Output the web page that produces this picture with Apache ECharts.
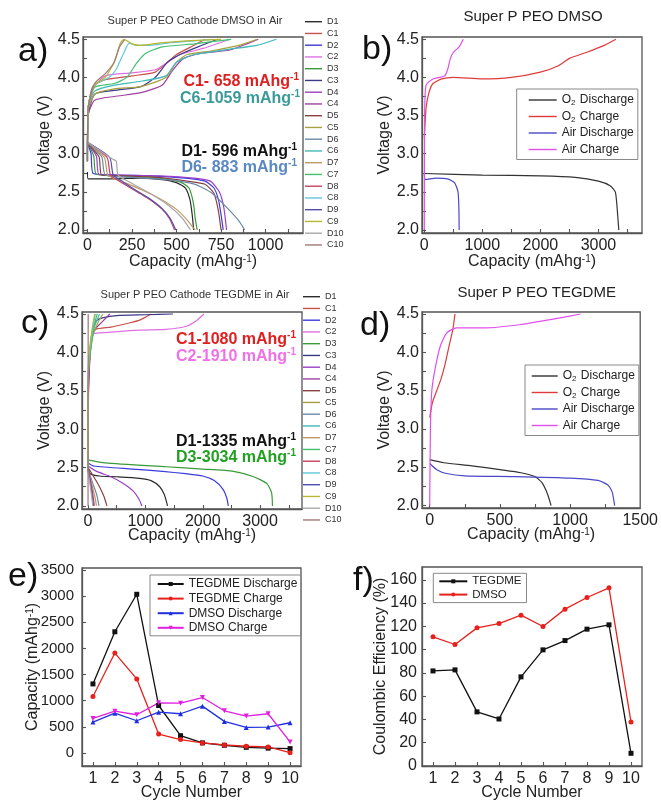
<!DOCTYPE html>
<html><head><meta charset="utf-8">
<script src="https://cdn.jsdelivr.net/npm/echarts@6/dist/echarts.min.js"></script>
<style>html,body{margin:0;padding:0;background:#fff}#c{width:661px;height:802px}</style>
</head><body><div id="c"></div>
<script>
// ---------- Panel a: Super P PEO Cathode DMSO in Air ([capacity, voltage]) ----------
const aD1 = [[0,2.76],[4,2.67],[150,2.67],[300,2.68],[420,2.66],[500,2.62],[550,2.55],[575,2.4],[588,2.2],[596,2.0]];
const aC1 = [[0,2.9],[4,3.6],[30,3.88],[100,3.97],[250,4.02],[380,4.07],[450,4.2],[500,4.3],[580,4.4],[661,4.5]];
const aD2 = [[0,3.14],[20,3.0],[32,2.74],[150,2.72],[350,2.71],[550,2.68],[660,2.64],[710,2.55],[735,2.4],[750,2.2],[762,2.0]];
const aC2 = [[0,2.9],[4,3.6],[30,3.85],[100,4.02],[250,4.06],[380,4.1],[450,4.2],[520,4.3],[650,4.38],[800,4.5]];
const aD3 = [[0,3.15],[35,2.97],[50,2.73],[200,2.71],[400,2.68],[520,2.63],[570,2.55],[595,2.35],[605,2.15],[616,2.0]];
const aC3 = [[0,2.9],[4,3.5],[40,3.78],[150,3.83],[300,3.88],[380,4.0],[450,4.2],[520,4.3],[620,4.4],[731,4.5]];
const aD4 = [[0,3.14],[50,2.97],[65,2.73],[200,2.72],[400,2.71],[600,2.68],[690,2.64],[740,2.5],[765,2.3],[781,2.0]];
const aC4 = [[0,2.9],[4,3.5],[40,3.7],[150,3.75],[300,3.8],[420,3.9],[480,4.1],[540,4.25],[650,4.32],[800,4.36],[959,4.5]];
const aD5 = [[0,3.13],[65,2.96],[80,2.72],[200,2.71],[400,2.69],[560,2.64],[660,2.6],[710,2.48],[735,2.25],[750,2.0]];
const aC5 = [[0,2.9],[4,3.55],[40,3.78],[150,3.85],[300,3.88],[440,4.0],[500,4.2],[560,4.3],[700,4.35],[850,4.42],[953,4.5]];
const aD6 = [[0,3.14],[80,2.96],[100,2.72],[250,2.69],[450,2.66],[600,2.6],[700,2.48],[800,2.25],[850,2.12],[883,2.0]];
const aC6 = [[0,2.9],[4,3.6],[40,3.82],[150,3.9],[300,3.95],[440,4.02],[500,4.2],[600,4.3],[800,4.37],[950,4.42],[1061,4.5]];
const aD7 = [[0,3.15],[95,2.95],[115,2.72],[200,2.63],[300,2.53],[400,2.42],[500,2.27],[560,2.13],[604,2.0]];
const aC7 = [[0,2.9],[4,3.6],[40,3.87],[150,3.92],[220,4.0],[280,4.2],[330,4.32],[420,4.4],[600,4.44],[807,4.5]];
const aD8 = [[0,3.15],[110,2.95],[130,2.72],[200,2.61],[300,2.47],[350,2.4],[420,2.27],[460,2.15],[489,2.0]];
const aC8 = [[0,2.9],[4,3.6],[40,3.9],[120,4.0],[160,4.1],[200,4.3],[235,4.45],[270,4.42],[350,4.42],[450,4.45],[600,4.48],[705,4.5]];
const aD9 = [[0,3.15],[125,2.95],[145,2.72],[200,2.63],[300,2.48],[350,2.41],[420,2.28],[465,2.15],[496,2.0]];
const aC9 = [[0,2.9],[4,3.6],[40,3.9],[100,4.0],[150,4.2],[185,4.45],[205,4.5],[250,4.44],[300,4.42],[400,4.45],[550,4.48],[750,4.5]];
const aD10 = [[0,3.15],[140,2.93],[162,2.9],[172,2.72],[250,2.61],[350,2.48],[450,2.33],[530,2.16],[578,2.0]];
const aC10 = [[0,2.9],[4,3.6],[40,3.92],[100,4.05],[150,4.2],[180,4.4],[210,4.5]];

// ---------- Panel c: Super P PEO Cathode TEGDME in Air ----------
const cD1 = [[0,2.5],[40,2.42],[200,2.39],[500,2.38],[900,2.36],[1100,2.33],[1250,2.25],[1330,2.15],[1370,2.05],[1385,2.0]];
const cC1 = [[0,2.5],[5,3.4],[30,3.9],[70,4.2],[130,4.3],[400,4.33],[700,4.38],[900,4.42],[1100,4.5]];
const cD2 = [[0,2.56],[100,2.52],[775,2.48],[1300,2.45],[1700,2.42],[2000,2.39],[2200,2.33],[2350,2.22],[2420,2.1],[2445,2.0]];
const cC2 = [[0,2.5],[5,3.3],[40,4.0],[90,4.24],[350,4.26],[900,4.29],[1361,4.3],[1714,4.34],[1900,4.42],[2020,4.5]];
const cD3 = [[0,2.6],[300,2.56],[1360,2.51],[2000,2.48],[2535,2.45],[2887,2.38],[3120,2.29],[3200,2.17],[3215,2.0]];
const cC3 = [[0,2.5],[5,3.5],[50,4.15],[100,4.35],[160,4.42],[250,4.45],[500,4.48],[1000,4.49],[1480,4.5]];
const cD4 = [[0,2.52],[150,2.45],[400,2.38],[600,2.3],[780,2.2],[880,2.1],[940,2.0]];
const cC4 = [[0,2.5],[5,3.6],[60,4.2],[120,4.3],[250,4.4],[380,4.5]];
const cD5 = [[0,2.5],[100,2.38],[200,2.25],[280,2.12],[330,2.0]];
const cC5 = [[0,2.5],[5,3.7],[80,4.2],[180,4.4],[260,4.5]];
const cD6 = [[0,2.48],[80,2.3],[150,2.15],[192,2.0]];
const cC6 = [[0,2.5],[10,3.8],[100,4.3],[200,4.5]];
const cD7 = [[0,2.48],[60,2.3],[120,2.12],[147,2.0]];
const cC7 = [[0,2.5],[10,3.8],[90,4.3],[160,4.5]];
const cD8 = [[0,2.48],[50,2.3],[90,2.12],[110,2.0]];
const cC8 = [[0,2.5],[10,3.9],[80,4.3],[130,4.5]];
const cD9 = [[0,2.47],[40,2.3],[80,2.1],[95,2.0]];
const cC9 = [[0,2.5],[10,3.9],[70,4.3],[115,4.5]];
const cD10 = [[0,2.45],[30,2.3],[65,2.12],[83,2.0]];
const cC10 = [[0,2.0],[3,4.5]];

// ---------- Panel b: Super P PEO DMSO ----------
const bO2Dis = [[0,2.74],[1000,2.72],[2000,2.71],[2600,2.69],[3000,2.64],[3200,2.58],[3290,2.5],[3320,2.3],[3350,2.0]];
const bO2Chg = [[0,3.2],[30,3.6],[80,3.8],[150,3.92],[300,3.98],[500,4.0],[1000,3.98],[1500,4.0],[2000,4.07],[2300,4.15],[2500,4.25],[2800,4.33],[3100,4.42],[3300,4.5]];
const bAirDis = [[0,2.73],[20,2.66],[200,2.68],[400,2.67],[520,2.62],[580,2.5],[595,2.3],[600,2.0]];
const bAirChg = [[0,2.0],[5,3.5],[30,3.9],[150,3.98],[350,4.02],[400,4.1],[450,4.25],[500,4.33],[600,4.4],[670,4.5]];

// ---------- Panel d: Super P PEO TEGDME ----------
const dO2Dis = [[0,2.6],[100,2.56],[300,2.52],[500,2.47],[650,2.43],[750,2.38],[800,2.3],[840,2.15],[865,2.0]];
const dO2Chg = [[0,3.15],[20,3.35],[50,3.5],[80,3.65],[110,3.85],[140,4.1],[165,4.3],[180,4.5]];
const dAirDis = [[0,2.55],[50,2.47],[120,2.42],[250,2.39],[600,2.38],[1000,2.36],[1200,2.33],[1270,2.27],[1300,2.18],[1318,2.0]];
const dAirChg = [[0,2.0],[5,3.0],[15,3.5],[40,3.8],[75,4.08],[120,4.25],[190,4.32],[400,4.32],[640,4.36],[870,4.43],[1075,4.5]];

// ---------- Panel e: capacity vs cycle ----------
const cycles = [1,2,3,4,5,6,7,8,9,10];
const eTegdmeDis = [1321,2319,3037,908,330,192,147,108,92,83];
const eTegdmeChg = [1080,1912,1417,362,256,192,154,128,115,5];
const eDmsoDis = [591,762,616,781,750,896,604,489,496,578];
const eDmsoChg = [661,800,731,959,953,1061,807,705,750,210];

// ---------- Panel f: coulombic efficiency ----------
const fTegdme = [81.7,82.6,46.5,40.4,76.6,99.8,107.8,117.6,121.3,10.9];
const fDmso = [111,104.4,118.7,122.4,129.6,119.9,134.8,144.8,153.1,37.8];

const cycleNames = ['D1','C1','D2','C2','D3','C3','D4','C4','D5','C5','D6','C6','D7','C7','D8','C8','D9','C9','D10','C10'];
const aCurves = [aD1,aC1,aD2,aC2,aD3,aC3,aD4,aC4,aD5,aC5,aD6,aC6,aD7,aC7,aD8,aC8,aD9,aC9,aD10,aC10];
const cCurves = [cD1,cC1,cD2,cC2,cD3,cC3,cD4,cC4,cD5,cC5,cD6,cC6,cD7,cC7,cD8,cC8,cD9,cC9,cD10,cC10];
const cycleColors = ['#2b2b2b','#c8504a','#3a3ae0','#e070e0','#3a9a3a','#3a3a8a','#9a40c8','#a040a0','#8a4040','#a8a040',
  '#6a8aa8','#40b8b8','#c09a60','#40c070','#c84060','#60c8d8','#5050b0','#b8b830','#a8a8a8','#a07878'];
const gasNames = ['O2 Discharge','O2 Charge','Air Discharge','Air Charge'];
const gasColors = ['#333333','#e03a3a','#4848c8','#e050e8'];

const FONT = '"Liberation Sans", Arial, Helvetica, sans-serif';
const AX = '#555';
const range = (a,b,s) => { const r=[]; for (let v=a; v<=b+1e-9; v+=s) r.push(+v.toFixed(4)); return r; };

function valAxis(o) {
  return {
    type: 'value', gridIndex: o.g, min: o.min, max: o.max,
    axisLine: { show: true, onZero: false, lineStyle: { color: AX, width: 1.3 } },
    axisTick: { show: true, inside: true, length: 4, customValues: o.ticks, lineStyle: { color: AX, width: 1.1 } },
    axisLabel: { customValues: o.labels, formatter: o.fmt || (v => String(Math.round(v))), fontSize: o.fs || 16, color: '#222', margin: o.margin, fontFamily: FONT },
    splitLine: { show: false },
    name: o.name, nameLocation: 'middle', nameGap: o.nameGap, nameMoveOverlap: false,
    nameTextStyle: { fontSize: 16, color: '#222', fontFamily: FONT,
      rich: { sup: { fontSize: 10, verticalAlign: 'top', lineHeight: 10, color: '#222' } } }
  };
}
const capName = 'Capacity (mAhg{sup|-1})';
const vFmt = v => v.toFixed(1);
const vTicks = range(2.0, 4.5, 0.25), vLabels = range(2.0, 4.5, 0.5);

const grid = [
  { left: 83, top: 37, width: 220, height: 196 },
  { left: 422, top: 37, width: 220, height: 196 },
  { left: 82, top: 312, width: 220, height: 197 },
  { left: 422, top: 312, width: 220, height: 196 },
  { left: 82, top: 568, width: 219, height: 198 },
  { left: 422, top: 567, width: 220, height: 200 }
].map(g => Object.assign(g, { show: true, borderColor: AX, borderWidth: 1.3, backgroundColor: 'transparent' }));

const xAxis = [
  valAxis({ g: 0, min: -25, max: 1210, ticks: range(0,1125,125), labels: range(0,1000,250), margin: 5, name: capName, nameGap: 21 }),
  valAxis({ g: 1, min: -40, max: 3750, ticks: range(0,3500,500), labels: range(0,3000,1000), margin: 5, name: capName, nameGap: 21 }),
  valAxis({ g: 2, min: -105, max: 3730, ticks: range(0,3500,500), labels: range(0,3000,1000), margin: 5, name: capName, nameGap: 19 }),
  valAxis({ g: 3, min: -55, max: 1500, ticks: range(0,1250,250), labels: range(0,1500,500), margin: 5, name: capName, nameGap: 19 }),
  valAxis({ g: 4, min: 0.5, max: 10.5, ticks: cycles, labels: cycles, margin: 5, name: 'Cycle Number', nameGap: 19 }),
  valAxis({ g: 5, min: 0.5, max: 10.5, ticks: cycles, labels: cycles, margin: 5, name: 'Cycle Number', nameGap: 19 })
];
const yAxis = [
  valAxis({ g: 0, min: 1.96, max: 4.53, ticks: vTicks, labels: vLabels, fmt: vFmt, margin: 3, name: 'Voltage (V)', nameGap: 30 }),
  valAxis({ g: 1, min: 1.96, max: 4.53, ticks: vTicks, labels: vLabels, fmt: vFmt, margin: 3, name: 'Voltage (V)', nameGap: 29 }),
  valAxis({ g: 2, min: 1.96, max: 4.526, ticks: vTicks, labels: vLabels, fmt: vFmt, margin: 3, name: 'Voltage (V)', nameGap: 29 }),
  valAxis({ g: 3, min: 1.97, max: 4.526, ticks: vTicks, labels: vLabels, fmt: vFmt, margin: 3, name: 'Voltage (V)', nameGap: 29 }),
  valAxis({ g: 4, min: -250, max: 3540, ticks: range(0,3500,500), labels: range(0,3500,500), margin: 8, fs: 15, name: 'Capacity (mAhg{sup|-1})', nameGap: 41 }),
  valAxis({ g: 5, min: 0, max: 171, ticks: range(0,160,20), labels: range(0,160,20), margin: 5, name: 'Coulombic Efficiency (%)', nameGap: 33 })
];

const series = [];
function curve(name, data, idx, color) {
  series.push({ type: 'line', name, data, xAxisIndex: idx, yAxisIndex: idx, showSymbol: false, symbol: 'none',
    smooth: 0.2, smoothMonotone: 'none', lineStyle: { color, width: 1.2 }, itemStyle: { color }, silent: true, z: 3 });
}
aCurves.forEach((d,i) => curve(cycleNames[i], d, 0, cycleColors[i]));
cCurves.forEach((d,i) => curve(cycleNames[i], d, 2, cycleColors[i]));
[bO2Dis,bO2Chg,bAirDis,bAirChg].forEach((d,i) => curve(gasNames[i], d, 1, gasColors[i]));
[dO2Dis,dO2Chg,dAirDis,dAirChg].forEach((d,i) => curve(gasNames[i], d, 3, gasColors[i]));

function pts(name, vals, idx, color, symbol, rot) {
  series.push({ type: 'line', name, data: cycles.map((c,i) => [c, vals[i]]), xAxisIndex: idx, yAxisIndex: idx,
    symbol, symbolSize: 5, symbolRotate: rot || 0, showSymbol: true,
    lineStyle: { color, width: 1.3 }, itemStyle: { color }, silent: true, z: 4 });
}
pts('TEGDME Discharge', eTegdmeDis, 4, '#111111', 'rect');
pts('TEGDME Charge', eTegdmeChg, 4, '#e8201c', 'circle');
pts('DMSO Discharge', eDmsoDis, 4, '#2030e0', 'triangle');
pts('DMSO Charge', eDmsoChg, 4, '#e020e0', 'triangle', 180);
pts('TEGDME', fTegdme, 5, '#111111', 'rect');
pts('DMSO', fDmso, 5, '#e8201c', 'circle');

const subFmt = n => n.replace('O2', 'O{sub|2}');
const subRich = { sub: { fontSize: 8, verticalAlign: 'bottom', lineHeight: 12, color: '#222', padding: [0,1,0,0] } };
const cycLegend = (left, top) => ({ data: cycleNames, left, top, orient: 'vertical', icon: 'rect', itemWidth: 17, itemHeight: 1.4,
  itemGap: 1.75, padding: 0, selectedMode: false, textStyle: { fontSize: 9, color: '#333', lineHeight: 10, fontFamily: FONT } });
const legend = [
  cycLegend(305, 16.7),
  cycLegend(303, 291.7),
  { data: gasNames, left: 516.7, top: 89, orient: 'vertical', icon: 'rect', itemWidth: 28, itemHeight: 1.4, itemGap: 2.5, padding: [4,4,3,12],
    borderColor: '#888', borderWidth: 1, selectedMode: false, formatter: subFmt,
    textStyle: { fontSize: 12, color: '#222', lineHeight: 14, fontFamily: FONT, rich: subRich } },
  { data: gasNames, left: 525, top: 365, orient: 'vertical', icon: 'rect', itemWidth: 26, itemHeight: 1.4, itemGap: 2.5, padding: [4,4,3,6.7],
    borderColor: '#888', borderWidth: 1, selectedMode: false, formatter: subFmt,
    textStyle: { fontSize: 12, color: '#222', lineHeight: 14, fontFamily: FONT, rich: subRich } },
  { data: ['TEGDME Discharge','TEGDME Charge','DMSO Discharge','DMSO Charge'], left: 150, top: 575, orient: 'vertical',
    itemWidth: 26, itemHeight: 5, itemGap: 0.6, padding: [2,4,1,6.7], borderColor: '#888', borderWidth: 1, selectedMode: false,
    textStyle: { fontSize: 12, color: '#222', lineHeight: 14, fontFamily: FONT } },
  { data: ['TEGDME','DMSO'], left: 433.3, top: 573.3, orient: 'vertical',
    itemWidth: 28, itemHeight: 5, itemGap: 1.3, padding: [2,5,2,5], borderColor: '#888', borderWidth: 1, selectedMode: false,
    textStyle: { fontSize: 11.5, color: '#222', lineHeight: 12, fontFamily: FONT } }
];

function txt(text, x, y, size, color, opts) {
  opts = opts || {};
  return { type: 'text', x, y, silent: true, z: 10,
    style: { text, fontSize: size, fill: color, fontFamily: FONT, fontWeight: opts.bold ? 'bold' : 'normal',
      align: opts.align || 'center', verticalAlign: 'middle', rich: opts.rich } };
}
function anno(label, x, y, color) {
  return txt('{b|' + label + ' mAhg}{s|-1}', x, y, 16, color, { align: 'right',
    rich: { b: { fontSize: 16, fontWeight: 'bold', fill: color, fontFamily: FONT, lineHeight: 18, verticalAlign: 'bottom' },
            s: { fontSize: 10, fontWeight: 'bold', fill: color, fontFamily: FONT, lineHeight: 18, verticalAlign: 'top' } } });
}
const graphic = [
  txt('Super P PEO Cathode DMSO in Air', 195, 20.7, 11, '#333'),
  txt('Super P PEO DMSO', 533, 16.7, 15, '#222'),
  txt('Super P PEO Cathode TEGDME in Air', 195, 295, 11, '#333'),
  txt('Super P PEO TEGDME', 536.7, 293.3, 15, '#222'),
  txt('a)', 18, 52, 34, '#111', { align: 'left' }),
  txt('b)', 362, 50, 34, '#111', { align: 'left' }),
  txt('c)', 21, 324, 34, '#111', { align: 'left' }),
  txt('d)', 360, 326, 34, '#111', { align: 'left' }),
  txt('e)', 8, 577, 34, '#111', { align: 'left' }),
  txt('f)', 353, 581, 34, '#111', { align: 'left' }),
  anno('C1- 658', 299, 81, '#e02020'),
  anno('C6-1059', 300, 98, '#3a9a9a'),
  anno('D1- 596', 297, 151, '#111111'),
  anno('D6- 883', 297, 167, '#5a88c0'),
  anno('C1-1080', 296, 339, '#e02020'),
  anno('C2-1910', 296, 356, '#f070e8'),
  anno('D1-1335', 296, 441, '#111111'),
  anno('D3-3034', 296, 457, '#22a022')
];

const chart = echarts.init(document.getElementById('c'), null, { renderer: 'canvas' });
chart.setOption({
  animation: false, backgroundColor: '#fff',
  textStyle: { fontFamily: FONT },
  grid, xAxis, yAxis, series, legend, graphic
});
</script></body></html>
